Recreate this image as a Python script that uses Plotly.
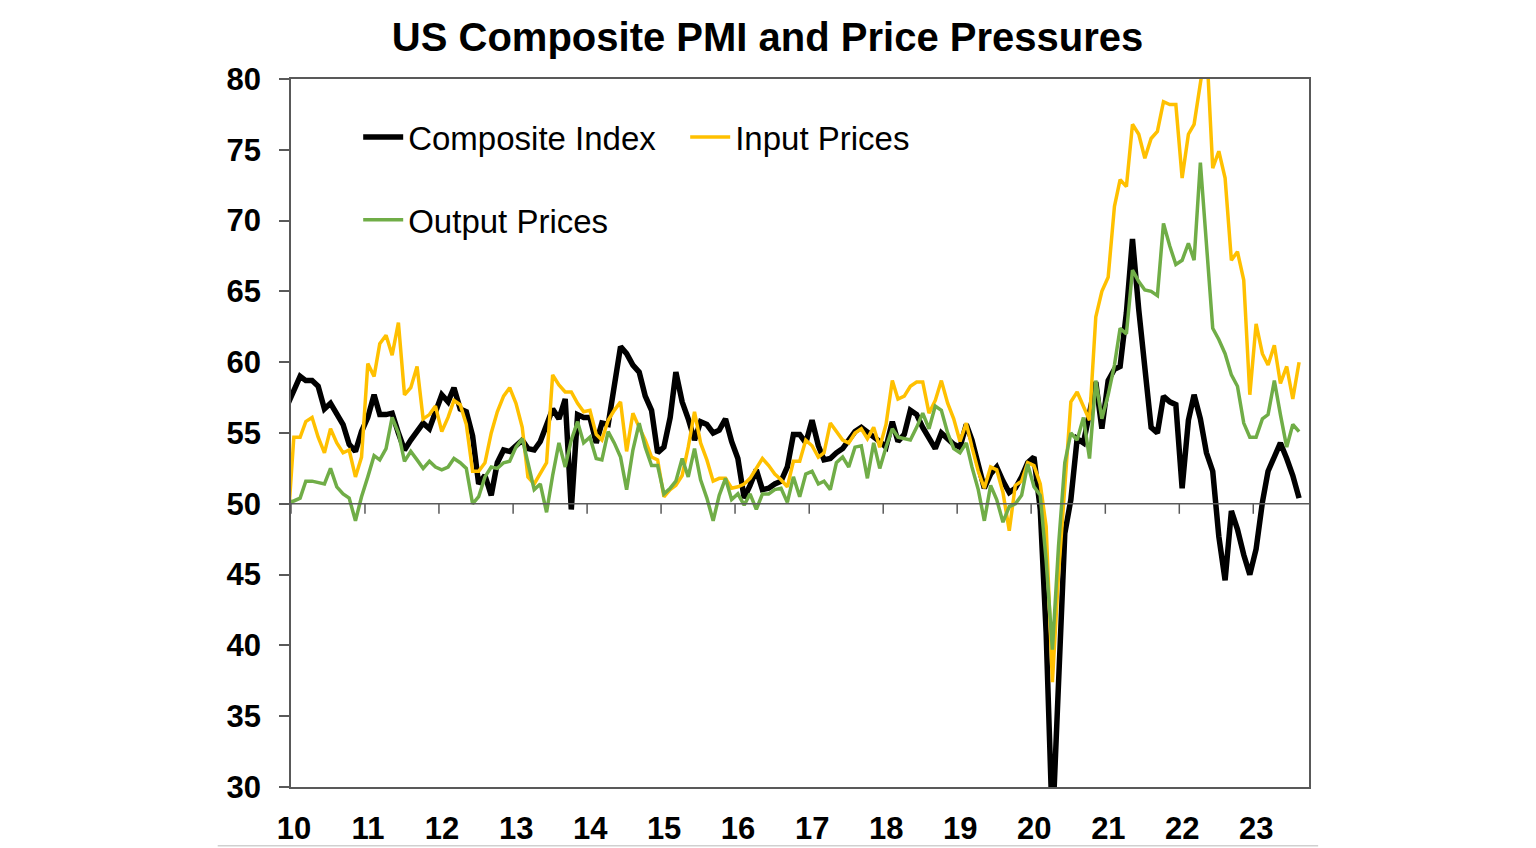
import pandas as pd
import plotly.graph_objects as go

# monthly readings, Dec 2009 .. Aug 2023 (first point sits just left of the axis start)
months = pd.date_range("2009-12-01", "2023-08-01", freq="MS") + pd.Timedelta(days=14)

composite = [
    57.0,
    58.0, 59.0, 58.7, 58.7, 58.3, 56.7, 57.1, 56.3, 55.6, 54.2, 53.7, 55.1,  # 2010
    56.1, 57.7, 56.3, 56.3, 56.4, 55.0, 53.8, 54.5, 55.1, 55.7, 55.3, 56.4,  # 2011
    57.7, 57.2, 58.2, 56.7, 56.5, 54.8, 51.4, 52.0, 50.6, 52.9, 53.8, 53.7,  # 2012
    54.1, 54.5, 53.9, 53.8, 54.4, 55.7, 56.7, 56.0, 57.4, 49.6, 56.3, 56.1,  # 2013
    56.1, 54.3, 55.7, 55.6, 58.4, 61.1, 60.6, 59.8, 59.3, 57.6, 56.6, 53.6,  # 2014
    54.0, 56.1, 59.3, 57.2, 56.0, 54.5, 55.8, 55.6, 55.0, 55.2, 56.0, 54.4,  # 2015
    53.2, 50.4, 51.3, 52.4, 51.0, 51.1, 51.4, 51.6, 52.6, 54.9, 54.9, 54.3,  # 2016
    55.9, 54.1, 53.1, 53.2, 53.6, 53.9, 54.5, 55.1, 55.4, 55.1, 54.8, 54.4,  # 2017
    54.0, 55.8, 54.4, 54.9, 56.6, 56.3, 55.4, 54.7, 53.9, 55.0, 54.6, 54.2,  # 2018
    54.0, 55.6, 54.5, 52.9, 51.1, 52.1, 52.6, 51.6, 50.8, 51.1, 51.9, 52.9,  # 2019
    53.3, 49.6, 40.9, 27.0, 37.0, 47.9, 50.3, 54.6, 54.3, 56.3, 58.6, 55.3,  # 2020
    58.7, 59.5, 59.7, 63.5, 68.7, 63.7, 59.9, 55.4, 55.0, 57.6, 57.2, 57.0,  # 2021
    51.1, 55.9, 57.7, 56.0, 53.6, 52.3, 47.7, 44.6, 49.5, 48.2, 46.4, 45.0,  # 2022
    46.8, 50.1, 52.3, 53.4, 54.3, 53.2, 52.0, 50.4,  # 2023
]

input_prices = [
    48.2,
    54.7, 54.7, 55.8, 56.1, 54.7, 53.6, 55.3, 54.3, 53.6, 53.8, 51.9, 53.3,  # 2010
    59.9, 59.0, 61.3, 61.9, 60.5, 62.8, 57.7, 58.2, 59.7, 56.0, 56.3, 56.9,  # 2011
    55.1, 56.1, 57.3, 57.0, 55.6, 52.3, 52.3, 52.9, 55.0, 56.5, 57.6, 58.2,  # 2012
    57.1, 55.4, 51.9, 51.4, 52.1, 52.9, 59.1, 58.4, 57.9, 57.9, 57.1, 56.5,  # 2013
    56.6, 54.9, 54.5, 55.9, 56.6, 57.2, 53.7, 56.4, 55.4, 54.5, 53.3, 53.1,  # 2014
    50.5, 51.0, 51.3, 52.0, 54.0, 56.5, 54.3, 53.1, 51.6, 51.8, 51.8, 51.1,  # 2015
    51.2, 51.4, 51.8, 52.5, 53.2, 52.7, 52.1, 51.7, 51.2, 53.0, 53.0, 54.5,  # 2016
    54.1, 53.3, 53.6, 55.7, 55.1, 54.5, 54.3, 55.0, 55.3, 54.6, 55.4, 54.0,  # 2017
    55.6, 58.7, 57.4, 57.6, 58.3, 58.6, 58.6, 56.4, 57.3, 58.7, 57.1, 56.0,  # 2018
    54.4, 55.7, 54.0, 52.3, 51.1, 52.6, 52.4, 50.8, 48.1, 51.3, 51.6, 52.9,  # 2019
    52.7, 51.4, 48.4, 37.4, 45.0, 51.5, 57.2, 57.9, 56.9, 55.9, 63.2, 65.0,  # 2020
    66.0, 71.0, 72.9, 72.4, 76.8, 76.1, 74.4, 75.8, 76.3, 78.4, 78.2, 78.2,  # 2021
    73.0, 76.1, 76.8, 79.6, 82.5, 73.7, 74.9, 73.0, 67.2, 67.8, 65.8, 57.7,  # 2022
    62.7, 60.6, 59.8, 61.2, 58.5, 59.7, 57.4, 60.0,  # 2023
]

output_prices = [
    50.1,
    50.2, 50.4, 51.6, 51.6, 51.5, 51.4, 52.5, 51.2, 50.7, 50.4, 48.8, 50.5,  # 2010
    51.9, 53.4, 53.1, 53.9, 56.1, 55.0, 53.0, 53.7, 53.1, 52.5, 53.0, 52.6,  # 2011
    52.4, 52.6, 53.2, 52.9, 52.5, 50.0, 50.5, 51.9, 52.6, 52.5, 52.9, 53.0,  # 2012
    54.0, 54.6, 52.9, 51.0, 51.4, 49.4, 52.0, 54.3, 52.6, 54.5, 55.8, 54.3,  # 2013
    54.7, 53.2, 53.1, 55.1, 54.3, 53.3, 51.0, 53.8, 55.7, 54.0, 52.7, 52.7,  # 2014
    50.7, 51.1, 51.6, 53.2, 51.9, 53.9, 51.7, 50.4, 48.8, 50.6, 51.8, 50.3,  # 2015
    50.7, 49.9, 50.7, 49.6, 50.7, 50.7, 51.0, 51.1, 50.1, 51.9, 50.5, 52.1,  # 2016
    52.3, 51.4, 51.6, 51.0, 52.9, 53.3, 52.6, 54.0, 54.1, 51.8, 54.3, 52.5,  # 2017
    54.0, 55.3, 54.7, 54.6, 54.5, 55.4, 56.4, 55.3, 56.9, 56.6, 55.0, 53.9,  # 2018
    53.6, 54.3, 52.6, 51.0, 48.8, 51.3, 50.3, 48.7, 49.8, 50.0, 50.6, 52.8,  # 2019
    51.2, 50.6, 46.0, 39.7, 47.0, 52.9, 55.0, 54.5, 56.1, 53.2, 58.7, 56.0,  # 2020
    57.7, 59.8, 62.4, 62.0, 66.5, 65.7, 65.1, 65.0, 64.7, 69.8, 68.2, 66.9,  # 2021
    67.2, 68.4, 67.2, 74.1, 68.2, 62.4, 61.6, 60.6, 59.1, 58.3, 55.7, 54.7,  # 2022
    54.7, 56.0, 56.3, 58.7, 56.3, 54.0, 55.6, 55.1,  # 2023
]

year_labels = ["10", "11", "12", "13", "14", "15", "16",
               "17", "18", "19", "20", "21", "22", "23"]
label_dates = ["20" + y + "-01-16" for y in year_labels]
year_starts = ["20" + y + "-01-01" for y in year_labels]

FONT = "Liberation Sans, Arial, sans-serif"
AXIS_GREY = "#595959"
x_range = ["2010-01-01", "2023-10-03"]

fig = go.Figure()

fig.add_trace(go.Scatter(
    x=months, y=composite, mode="lines", name="Composite Index",
    line=dict(color="#000000", width=5.5), legend="legend"
))
fig.add_trace(go.Scatter(
    x=months, y=input_prices, mode="lines", name="Input Prices",
    line=dict(color="#FFC000", width=3.5), legend="legend"
))
fig.add_trace(go.Scatter(
    x=months, y=output_prices, mode="lines", name="Output Prices",
    line=dict(color="#70AD47", width=3.5), legend="legend2"
))

# horizontal axis line crossing at 50, with short ticks at each year start
fig.add_hline(y=50, line=dict(color=AXIS_GREY, width=1.5))
for d in year_starts:
    fig.add_shape(type="line", xref="x", yref="y",
                  x0=d, x1=d, ysizemode="pixel", yanchor=50, y0=0, y1=-10,
                  line=dict(color=AXIS_GREY, width=1.5))

# thin grey rule along the very bottom of the picture
fig.add_shape(type="line", xref="paper", yref="paper",
              x0=-0.072, x1=1.009, y0=-0.083, y1=-0.083,
              line=dict(color="#D0D0D0", width=1.5))

fig.update_layout(
    width=1536,
    height=848,
    margin=dict(l=283, r=235, t=71, b=69, autoexpand=False),
    paper_bgcolor="white",
    plot_bgcolor="white",
    font=dict(family=FONT, color="black"),
    title=dict(
        text="US Composite PMI and Price Pressures",
        x=0.4945, xref="container", xanchor="center",
        y=1 - 29 / 848, yref="container", yanchor="middle",
        font=dict(size=40, family=FONT, weight="bold", color="black"),
    ),
    xaxis=dict(
        type="date",
        range=x_range,
        tickvals=label_dates,
        ticktext=year_labels,
        ticks="",
        showgrid=False,
        zeroline=False,
        showline=True,
        mirror=True,
        linecolor=AXIS_GREY,
        linewidth=1.5,
        automargin=False,
        ticklabelstandoff=13,
        tickfont=dict(size=31, family=FONT, weight="bold", color="black"),
    ),
    yaxis=dict(
        range=[30, 80],
        dtick=5,
        tick0=30,
        ticks="outside",
        ticklen=10,
        tickwidth=1.5,
        tickcolor=AXIS_GREY,
        showgrid=False,
        zeroline=False,
        showline=True,
        mirror=True,
        linecolor=AXIS_GREY,
        linewidth=1.5,
        automargin=False,
        ticklabelstandoff=12,
        tickfont=dict(size=31, family=FONT, weight="bold", color="black"),
    ),
    legend=dict(
        orientation="h",
        x=0.066, y=0.918, xanchor="left", yanchor="middle",
        bgcolor="rgba(0,0,0,0)",
        font=dict(size=33, family=FONT, color="black"),
        itemwidth=40,
        entrywidthmode="pixels",
        entrywidth=272,
    ),
    legend2=dict(
        orientation="h",
        x=0.066, y=0.801, xanchor="left", yanchor="middle",
        bgcolor="rgba(0,0,0,0)",
        font=dict(size=33, family=FONT, color="black"),
        itemwidth=40,
    ),
    showlegend=True,
)

fig.write_html("out.html")
